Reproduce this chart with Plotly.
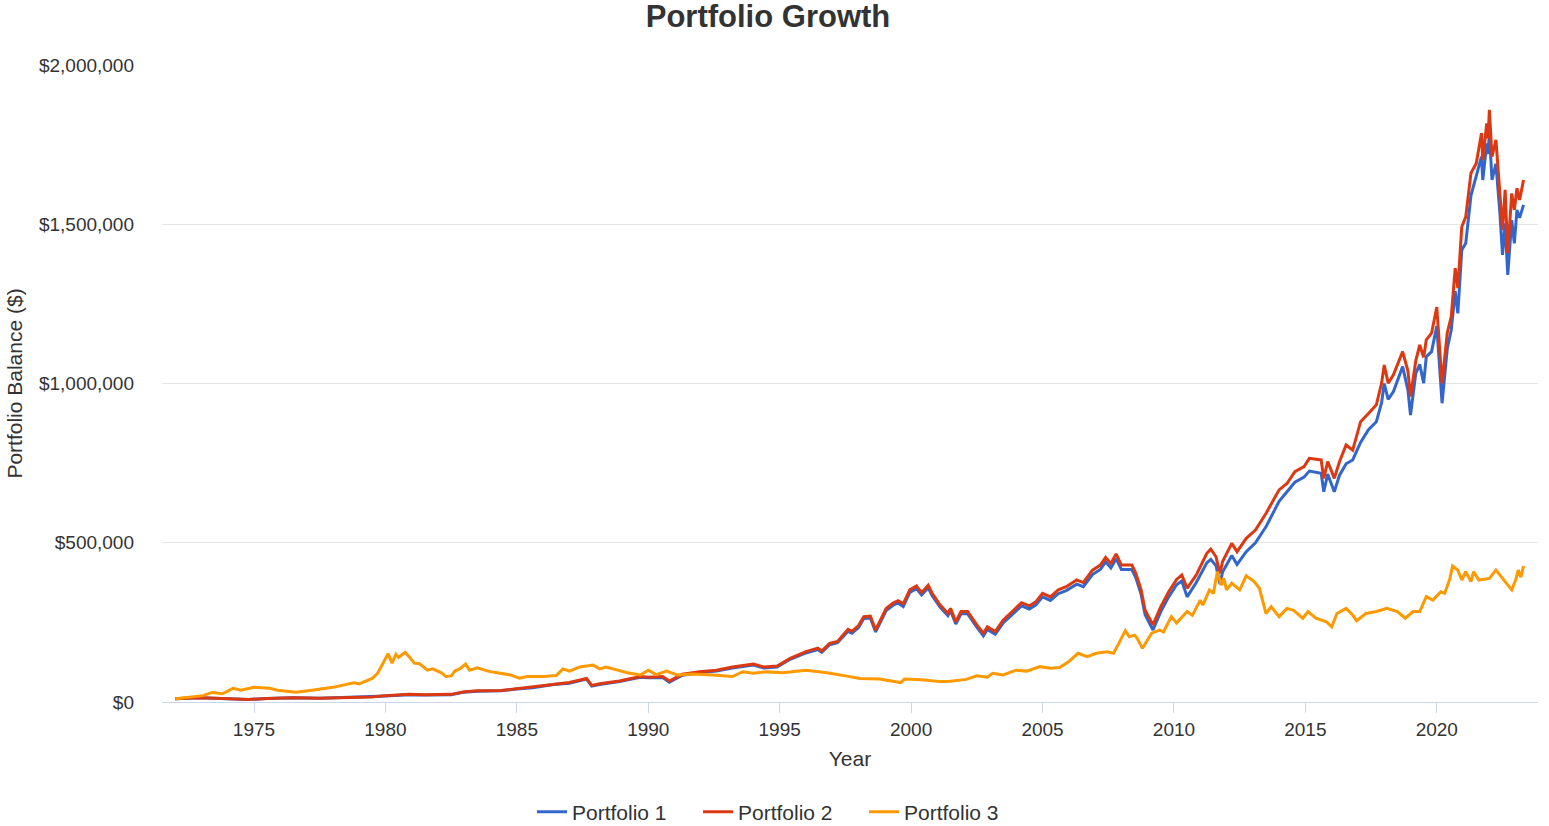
import plotly.graph_objects as go

# ---- data (values in thousands of $) ----
p12_years = [
    1972.0, 1972.9, 1973.5, 1974.0, 1974.8, 1975.5, 1976.5, 1977.5, 1978.5, 1979.5,
    1980.0, 1980.9, 1981.5, 1982.5, 1983.0, 1983.5, 1984.4, 1985.0, 1985.6, 1986.4,
    1987.0, 1987.65, 1987.85, 1988.15, 1988.9, 1989.7, 1990.0, 1990.55, 1990.8, 1991.3,
    1991.95, 1992.6, 1993.2, 1994.0, 1994.4, 1994.9, 1995.4, 1996.0, 1996.45, 1996.6,
    1996.9, 1997.2, 1997.6, 1997.75, 1998.0, 1998.2, 1998.45, 1998.65, 1999.05, 1999.3,
    1999.5, 1999.7, 1999.95, 2000.2, 2000.4, 2000.65, 2000.8, 2001.1, 2001.4, 2001.5,
    2001.7, 2001.9, 2002.15, 2002.5, 2002.75, 2002.9, 2003.2, 2003.5, 2003.85, 2004.2,
    2004.5, 2004.75, 2005.0, 2005.3, 2005.6, 2005.9, 2006.3, 2006.55, 2006.9, 2007.2,
    2007.4, 2007.6, 2007.8, 2008.0, 2008.4, 2008.55, 2008.75, 2008.9, 2009.2, 2009.5,
    2009.8, 2010.1, 2010.3, 2010.5, 2010.85, 2011.25, 2011.4, 2011.6, 2011.75, 2011.85,
    2012.2, 2012.4, 2012.75, 2013.1, 2013.5, 2014.0, 2014.3, 2014.6, 2014.95, 2015.15,
    2015.6, 2015.7, 2015.85, 2016.1, 2016.3, 2016.55, 2016.8, 2017.1, 2017.4, 2017.7,
    2017.9, 2018.0, 2018.15, 2018.35, 2018.7, 2018.9, 2019.0, 2019.2, 2019.35, 2019.5,
    2019.6, 2019.8, 2020.0, 2020.2, 2020.4, 2020.55, 2020.7, 2020.8, 2020.95, 2021.1,
    2021.3, 2021.5, 2021.7, 2021.75, 2021.9, 2021.95, 2022.0, 2022.1, 2022.25, 2022.4,
    2022.5, 2022.6, 2022.7, 2022.85, 2022.95, 2023.05, 2023.15, 2023.3,
]

portfolio1_k = [
    10, 13, 12, 10, 8, 11, 13, 12, 14, 16,
    19, 23, 22, 23, 31, 34, 35, 41, 45, 55,
    59, 72, 50, 55, 64, 78, 76, 77, 62, 84,
    92, 97, 107, 116, 107, 110, 134, 154, 165, 156,
    180, 186, 222, 216, 234, 262, 264, 220, 287, 303,
    311, 300, 344, 356, 336, 359, 334, 298, 271, 287,
    245, 277, 277, 235, 208, 228, 213, 248, 275, 302,
    292, 305, 330, 319, 340, 350, 370, 362, 400, 416,
    440, 421, 450, 416, 416, 390, 338, 275, 226, 284,
    330, 368, 380, 330, 375, 437, 448, 428, 370, 408,
    460, 432, 472, 500, 550, 630, 660, 690, 706, 725,
    718, 660, 716, 660, 712, 748, 760, 815, 855, 880,
    940, 1000, 950, 975, 1053, 980, 901, 1032, 1060, 1001,
    1084, 1100, 1180, 938, 1110, 1168, 1290, 1220, 1419, 1440,
    1590, 1649, 1712, 1639, 1754, 1720, 1786, 1639, 1690, 1534,
    1404, 1503, 1341, 1513, 1440, 1545, 1520, 1561,
]

portfolio2_k = [
    10, 13, 12, 10, 8, 11, 13, 12, 14, 16,
    20, 24, 23, 24, 32, 35, 36, 42, 47, 57,
    61, 74, 52, 57, 66, 80, 78, 80, 66, 87,
    95, 100, 110, 119, 110, 113, 137, 158, 169, 160,
    184, 190, 228, 222, 240, 268, 270, 226, 294, 310,
    318, 308, 352, 364, 343, 367, 341, 305, 278, 294,
    252, 284, 284, 242, 216, 236, 221, 257, 284, 312,
    302, 315, 341, 330, 352, 362, 383, 375, 414, 430,
    454, 435, 465, 430, 430, 404, 352, 289, 242, 299,
    346, 385, 399, 357, 399, 467, 480, 456, 404, 441,
    498, 472, 514, 540, 592, 666, 686, 723, 739, 765,
    760, 702, 755, 702, 755, 807, 791, 880, 906, 933,
    1001, 1058, 1001, 1027, 1100, 1040, 959, 1071, 1121, 1082,
    1137, 1158, 1240, 1000, 1160, 1210, 1362, 1300, 1492, 1523,
    1661, 1691, 1786, 1702, 1817, 1770, 1859, 1712, 1765, 1608,
    1482, 1608, 1409, 1597, 1545, 1613, 1576, 1639,
]

p3_years = [
    1972.0, 1972.5, 1973.06, 1973.4, 1973.8, 1974.2, 1974.5, 1975.0, 1975.6, 1975.9,
    1976.6, 1977.2, 1978.0, 1978.8, 1979.0, 1979.5, 1979.7, 1979.9, 1980.1, 1980.25,
    1980.4, 1980.5, 1980.75, 1980.9, 1981.1, 1981.3, 1981.6, 1981.8, 1982.15, 1982.3,
    1982.5, 1982.65, 1982.83, 1983.05, 1983.2, 1983.5, 1983.9, 1984.25, 1984.75, 1985.1,
    1985.4, 1986.0, 1986.5, 1986.75, 1987.0, 1987.4, 1987.9, 1988.15, 1988.4, 1988.8,
    1989.2, 1989.7, 1990.0, 1990.3, 1990.7, 1991.1, 1991.7, 1992.45, 1993.2, 1993.6,
    1994.0, 1994.5, 1995.1, 1996.0, 1996.8, 1997.5, 1998.05, 1998.8, 1999.6, 1999.75,
    2000.4, 2001.1, 2001.5, 2002.1, 2002.5, 2002.9, 2003.1, 2003.5, 2004.0, 2004.4,
    2004.9, 2005.3, 2005.65, 2006.0, 2006.35, 2006.7, 2007.05, 2007.45, 2007.7, 2007.9,
    2008.15, 2008.3, 2008.5, 2008.6, 2008.8, 2009.15, 2009.45, 2009.6, 2009.9, 2010.1,
    2010.5, 2010.7, 2011.0, 2011.1, 2011.35, 2011.5, 2011.65, 2011.8, 2011.9, 2012.0,
    2012.2, 2012.5, 2012.75, 2013.05, 2013.25, 2013.5, 2013.7, 2014.0, 2014.3, 2014.55,
    2014.9, 2015.1, 2015.4, 2015.8, 2016.0, 2016.2, 2016.55, 2016.8, 2016.95, 2017.3,
    2017.7, 2018.1, 2018.5, 2018.8, 2019.1, 2019.35, 2019.6, 2019.85, 2020.15, 2020.3,
    2020.5, 2020.6, 2020.8, 2020.95, 2021.1, 2021.3, 2021.4, 2021.6, 2022.0, 2022.25,
    2022.5, 2022.85, 2023.0, 2023.1, 2023.2, 2023.3,
]

portfolio3_k = [
    10, 14, 20, 30, 26, 43, 37, 46, 43, 37,
    31, 37, 46, 60, 57, 74, 90, 120, 152, 122,
    150, 140, 156, 142, 122, 120, 100, 104, 91, 80,
    82, 98, 104, 119, 100, 107, 97, 92, 85, 75,
    80, 80, 83, 104, 97, 110, 116, 104, 110, 101,
    92, 85, 100, 86, 97, 85, 88, 85, 80, 95,
    90, 95, 92, 100, 92, 82, 74, 72, 61, 72,
    70, 64, 65, 71, 82, 78, 90, 85, 100, 97,
    111, 106, 108, 127, 153, 142, 153, 158, 153, 184,
    224, 205, 210, 200, 169, 216, 226, 220, 268, 248,
    284, 272, 320, 304, 352, 341, 409, 367, 388, 352,
    373, 352, 396, 378, 357, 278, 299, 268, 294, 288,
    263, 284, 263, 252, 236, 278, 294, 273, 255, 278,
    284, 294, 284, 263, 284, 284, 331, 320, 346, 341,
    388, 427, 414, 383, 409, 378, 409, 383, 388, 414,
    388, 352, 383, 414, 392, 427,
]

series_names = ["Portfolio 1", "Portfolio 2", "Portfolio 3"]
series_colors = ["#3366cc", "#dc3912", "#ff9900"]

x_tick_values = [1975, 1980, 1985, 1990, 1995, 2000, 2005, 2010, 2015, 2020]
y_tick_values = [0, 500000, 1000000, 1500000, 2000000]
y_tick_labels = ["$0", "$500,000", "$1,000,000", "$1,500,000", "$2,000,000"]

assert len(p12_years) == len(portfolio1_k) == len(portfolio2_k)
assert len(p3_years) == len(portfolio3_k)

FONT = "Arial, Liberation Sans, sans-serif"
TXT = "#333333"

fig = go.Figure()
series = [
    (p12_years, portfolio1_k),
    (p12_years, portfolio2_k),
    (p3_years, portfolio3_k),
]
for (xs, ys), name, color in zip(series, series_names, series_colors):
    fig.add_trace(go.Scatter(
        x=xs, y=[v * 1000 for v in ys], name=name, mode="lines",
        line=dict(color=color, width=3),
    ))

fig.update_layout(
    width=1549, height=826,
    paper_bgcolor="white", plot_bgcolor="white",
    margin=dict(l=162, r=11, t=65, b=124),
    font=dict(family=FONT, color=TXT, size=19),
    title=dict(text="<b>Portfolio Growth</b>", x=768 / 1549, xanchor="center",
               xref="container", yref="container", y=1 - 16 / 826, yanchor="middle",
               font=dict(size=31, color=TXT, family=FONT)),
    showlegend=True,
    legend=dict(orientation="h", xref="container", yref="container",
                x=781 / 1549, xanchor="center", y=1 - 812 / 826, yanchor="middle",
                font=dict(size=21, color=TXT), itemwidth=30,
                entrywidth=121, entrywidthmode="pixels"),
    hovermode="x unified",
)

fig.update_xaxes(
    range=[1971.5, 2023.85], tickmode="array", tickvals=x_tick_values,
    ticktext=[str(v) for v in x_tick_values],
    showgrid=False, zeroline=False, showline=True, linecolor="#ccd6eb", linewidth=1,
    ticks="outside", ticklen=10, tickcolor="#ccd6eb", tickwidth=1,
    tickfont=dict(size=19, color=TXT),
    title=dict(text="Year", font=dict(size=21, color=TXT), standoff=12),
)
fig.update_yaxes(
    range=[0, 2000000], tickmode="array", tickvals=y_tick_values,
    ticktext=y_tick_labels,
    showgrid=True, gridcolor="#e6e6e6", gridwidth=1, zeroline=False, showline=False,
    ticks="", ticklabelstandoff=27,
    tickfont=dict(size=19, color=TXT),
    title=dict(text="Portfolio Balance ($)", font=dict(size=21, color=TXT), standoff=10),
)

fig.write_html("out.html", config={"displayModeBar": False},
               post_script="document.body.style.margin='0px';document.body.style.padding='0px';")
